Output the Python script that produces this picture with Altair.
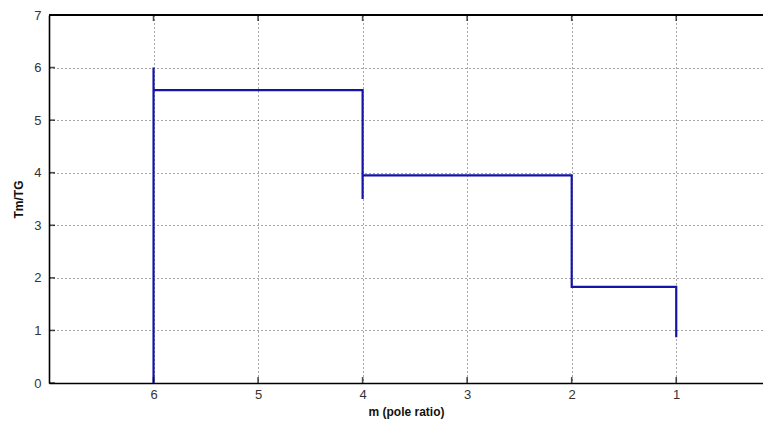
import altair as alt
import pandas as pd

# step curve (drawn in order)
m_vals = [6, 6, 6, 4, 4, 4, 2, 2, 1, 1]
t_vals = [0.0, 6.0, 5.57, 5.57, 3.5, 3.95, 3.95, 1.83, 1.83, 0.87]
x_ticks = [1, 2, 3, 4, 5, 6]
y_ticks = [0, 1, 2, 3, 4, 5, 6, 7]

df = pd.DataFrame({"m": m_vals, "t": t_vals, "i": list(range(len(m_vals)))})
xt = pd.DataFrame({"v": x_ticks})
yt = pd.DataFrame({"v": y_ticks})

W, H = 714, 368
xscale = alt.Scale(domain=[7, 0.17], nice=False, zero=False)
yscale = alt.Scale(domain=[0, 7], nice=False, zero=False)

FONT = "Liberation Sans"

xaxis = alt.Axis(values=x_ticks, format="d", title="m (pole ratio)", grid=True, gridColor="#000",
                 gridDash=[1, 3], gridOpacity=0.7, gridWidth=1, ticks=False,
                 domainColor="#000", domainWidth=1.6, labelFont=FONT, labelFontSize=13,
                 labelColor="#333", labelPadding=5, titleFont=FONT, titleFontSize=12,
                 titleFontWeight="bold", titleColor="#111", titlePadding=5)
yaxis = alt.Axis(values=y_ticks, format="d", title="Tm/TG", grid=True, gridColor="#000",
                 gridDash=[1, 3], gridOpacity=0.7, gridWidth=1, ticks=False,
                 domainColor="#000", domainWidth=1.6, labelFont=FONT, labelFontSize=13,
                 labelColor="#333", labelPadding=8, titleFont=FONT, titleFontSize=12,
                 titleFontWeight="bold", titleColor="#111", titlePadding=8)

line = alt.Chart(df).mark_line(color="#1414a8", strokeWidth=2.2, strokeJoin="miter", clip=True).encode(
    x=alt.X("m:Q", scale=xscale, axis=xaxis),
    y=alt.Y("t:Q", scale=yscale, axis=yaxis),
    order="i:O",
)

top = alt.Chart(xt).mark_rule(color="#000", strokeWidth=1.6).encode(
    y=alt.datum(7, scale=yscale), x=alt.value(0), x2=alt.value(W)
)

xticks_bottom = alt.Chart(xt).mark_tick(color="#000", size=6, thickness=1.6).encode(
    x=alt.X("v:Q", scale=xscale), y=alt.value(H - 3)
)
xticks_top = alt.Chart(xt).mark_tick(color="#000", size=6, thickness=1.6).encode(
    x=alt.X("v:Q", scale=xscale), y=alt.value(3)
)
yticks_left = alt.Chart(yt).mark_tick(color="#000", size=6, thickness=1.6).encode(
    y=alt.Y("v:Q", scale=yscale), x=alt.value(3)
)

chart = alt.layer(line, top, xticks_bottom, xticks_top, yticks_left).properties(
    width=W, height=H,
    autosize=alt.AutoSizeParams(type="none"),
    padding={"left": 41, "top": 7, "right": 0, "bottom": 40},
    background="white",
).configure_view(stroke=None)

chart.save("out.html", embed_options={"renderer": "svg", "actions": False})
